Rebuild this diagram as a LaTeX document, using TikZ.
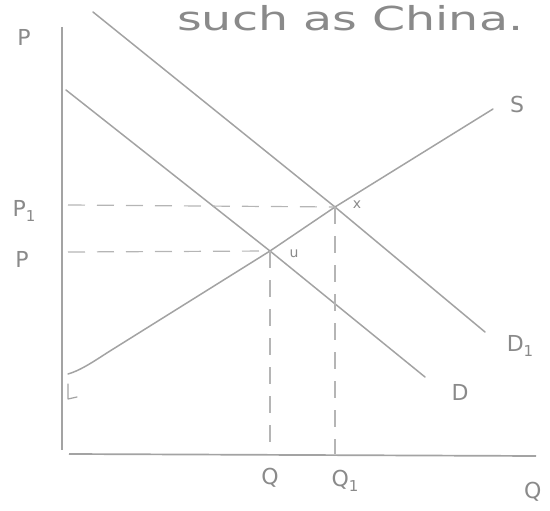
\documentclass[tikz,border=0pt]{standalone}
\usepackage{fontspec}
\setmainfont{DejaVu Sans}
\definecolor{ink}{HTML}{8A8A8A}
\definecolor{linec}{HTML}{A3A3A3}
\begin{document}
\begin{tikzpicture}[x=1pt,y=-1pt,
  curve/.style={draw=linec,line width=1.5pt,line cap=round,line join=round},
  axis/.style={draw=linec,line width=1.7pt},
  guide/.style={draw=linec!80,line width=1.2pt,dash pattern=on 17pt off 12pt},
  lab/.style={text=ink,inner sep=0pt,font=\fontsize{22}{22}\selectfont},
  small/.style={text=ink,inner sep=0pt,font=\fontsize{14}{14}\selectfont}]
\useasboundingbox (0,0) rectangle (550,511);
% title text
\node[text=ink,inner sep=0pt,anchor=base west] (title) at (177,31)
  {\scalebox{1.44}[1]{\fontsize{33}{33}\selectfont such as China.}};
% axes
\coordinate (ytop) at (62,27);
\coordinate (ybot) at (62,450);
\coordinate (xl) at (69,454);
\coordinate (xr) at (536,456);
\draw[axis] (ytop) -- (ybot);
\draw[axis] (xl) -- (xr);
% key points
\coordinate (E) at (270,251);
\coordinate (E1) at (335,207);
\coordinate (Ey) at (68,252);
\coordinate (E1y) at (68,205);
\coordinate (Ex) at (270,453);
\coordinate (E1x) at (335,454);
% demand D1
\coordinate (d1a) at (93,12);
\coordinate (d1b) at (485,332);
\draw[curve] (d1a) -- (E1) -- (d1b);
% demand D
\coordinate (da) at (66,90);
\coordinate (db) at (425,377);
\draw[curve] (da) -- (E) -- (db);
% supply S
\coordinate (sa) at (68,374);
\coordinate (sb) at (110,351);
\coordinate (sc) at (493,109);
\draw[curve] (sa) .. controls (82,370) and (98,358.5) .. (sb) -- (E) -- (E1) -- (sc);
% dashed guides
\draw[guide] (E1y) -- (E1);
\draw[guide] (Ey) -- (E);
\draw[guide] (E) -- (Ex);
\draw[guide] (E1) -- (E1x);
% small mark near the price axis
\coordinate (ka) at (68,384);
\coordinate (kb) at (68,399);
\coordinate (kc) at (77,397);
\draw[curve,line width=1.2pt] (ka) -- (kb) -- (kc);
% labels
\node[lab] (P) at (24,37) {P};
\node[lab] (P1) at (24,211) {P\raisebox{-0.35ex}{\fontsize{15}{15}\selectfont 1}};
\node[lab] (P0) at (22,259) {P};
\node[lab] (S) at (517,104) {S};
\node[lab] (D1) at (520,346) {D\raisebox{-0.45ex}{\fontsize{15}{15}\selectfont 1}};
\node[lab] (D) at (460,392) {D};
\node[lab] (Q) at (270,478) {Q};
\node[lab] (Q1) at (345,481) {Q\raisebox{-0.45ex}{\fontsize{15}{15}\selectfont 1}};
\node[lab,anchor=west] (Qax) at (524,492) {Q};
\node[small] (u) at (294,254) {u};
\node[small] (x) at (357,205) {x};
\end{tikzpicture}
\end{document}
